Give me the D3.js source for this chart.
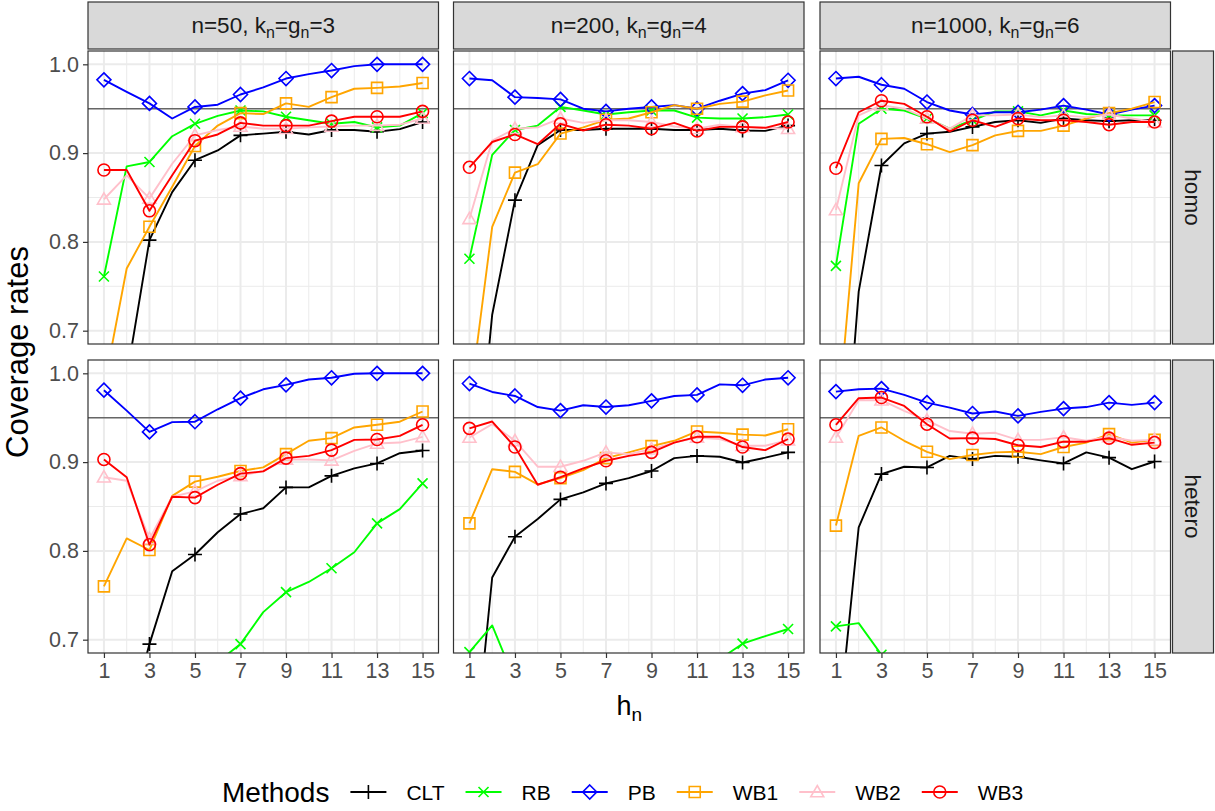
<!DOCTYPE html>
<html>
<head>
<meta charset="utf-8">
<title>Coverage rates</title>
<script src="https://d3js.org/d3.v7.min.js"></script>
<style>
  body { margin: 0; background: #fff; }
  text { font-family: "Liberation Sans", Arial, sans-serif; }
</style>
</head>
<body>
<script>
// x values and labels
const hn = [1, 2, 3, 4, 5, 6, 7, 8, 9, 10, 11, 12, 13, 14, 15];
const xTicks = [1, 3, 5, 7, 9, 11, 13, 15];
const yTicks = [0.7, 0.8, 0.9, 1.0];
const yMinor = [0.75, 0.85, 0.95];
const target = 0.95;

const methods = ["CLT", "RB", "PB", "WB1", "WB2", "WB3"];
const colors = ["#000000", "#00ff00", "#0000ff", "#ffa500", "#ffc0cb", "#ff0000"];
const cols = [["n=50, k", "=g", "=3"], ["n=200, k", "=g", "=4"], ["n=1000, k", "=g", "=6"]];
const rows = ["homo", "hetero"];

// homo, n=50
const homo50_CLT = [0.55, 0.648, 0.802, 0.856, 0.892, 0.903, 0.920, 0.922, 0.924, 0.921, 0.926, 0.926, 0.924, 0.927, 0.935];
const homo50_RB  = [0.761, 0.885, 0.890, 0.919, 0.933, 0.942, 0.948, 0.947, 0.941, 0.937, 0.933, 0.935, 0.929, 0.931, 0.945];
const homo50_PB  = [0.9825, 0.969, 0.956, 0.939, 0.952, 0.9545, 0.966, 0.974, 0.984, 0.989, 0.993, 0.998, 1.0, 1.0, 1.0];
const homo50_WB1 = [0.636, 0.770, 0.817, 0.862, 0.908, 0.931, 0.945, 0.944, 0.956, 0.952, 0.963, 0.9725, 0.9735, 0.975, 0.979];
const homo50_WB2 = [0.848, 0.875, 0.849, 0.888, 0.920, 0.926, 0.930, 0.9275, 0.9275, 0.929, 0.930, 0.931, 0.931, 0.932, 0.939];
const homo50_WB3 = [0.881, 0.881, 0.835, 0.875, 0.914, 0.921, 0.934, 0.931, 0.931, 0.931, 0.936, 0.941, 0.941, 0.941, 0.947];

// homo, n=200
const homo200_CLT = [0.45, 0.718, 0.847, 0.909, 0.926, 0.926, 0.9275, 0.9275, 0.9275, 0.926, 0.926, 0.9275, 0.9255, 0.925, 0.931];
const homo200_RB  = [0.781, 0.898, 0.926, 0.931, 0.952, 0.948, 0.9435, 0.946, 0.948, 0.948, 0.940, 0.939, 0.939, 0.9405, 0.9435];
const homo200_PB  = [0.984, 0.982, 0.963, 0.962, 0.9605, 0.950, 0.947, 0.950, 0.952, 0.954, 0.950, 0.959, 0.967, 0.971, 0.982];
const homo200_WB1 = [0.617, 0.817, 0.878, 0.8875, 0.922, 0.929, 0.9375, 0.939, 0.946, 0.954, 0.950, 0.9555, 0.958, 0.965, 0.9705];
const homo200_WB2 = [0.826, 0.914, 0.9275, 0.929, 0.939, 0.934, 0.937, 0.937, 0.935, 0.930, 0.9275, 0.932, 0.9295, 0.9285, 0.9275];
const homo200_WB3 = [0.884, 0.9125, 0.921, 0.910, 0.933, 0.9255, 0.932, 0.931, 0.9275, 0.934, 0.925, 0.9295, 0.9295, 0.9285, 0.935];

// homo, n=1000
const homo1000_CLT = [0.415, 0.744, 0.886, 0.911, 0.922, 0.924, 0.9295, 0.935, 0.937, 0.934, 0.939, 0.937, 0.936, 0.937, 0.937];
const homo1000_RB  = [0.773, 0.933, 0.950, 0.948, 0.939, 0.9275, 0.937, 0.947, 0.947, 0.9425, 0.948, 0.944, 0.9425, 0.9425, 0.9425];
const homo1000_PB  = [0.984, 0.986, 0.977, 0.9725, 0.9575, 0.948, 0.9435, 0.946, 0.946, 0.949, 0.9535, 0.949, 0.9435, 0.949, 0.9535];
const homo1000_WB1 = [0.574, 0.866, 0.916, 0.917, 0.910, 0.901, 0.909, 0.920, 0.925, 0.925, 0.931, 0.939, 0.945, 0.950, 0.9575];
const homo1000_WB2 = [0.836, 0.9425, 0.954, 0.950, 0.939, 0.9275, 0.9425, 0.9425, 0.9435, 0.9405, 0.9425, 0.9405, 0.9435, 0.939, 0.935];
const homo1000_WB3 = [0.883, 0.946, 0.959, 0.9555, 0.941, 0.9245, 0.937, 0.9295, 0.939, 0.937, 0.937, 0.935, 0.932, 0.935, 0.935];

// hetero, n=50
const hetero50_CLT = [0.55, 0.60, 0.695, 0.777, 0.796, 0.821, 0.8415, 0.848, 0.8715, 0.8715, 0.8845, 0.893, 0.8985, 0.910, 0.913];
const hetero50_RB  = [0.55, 0.57, 0.60, 0.62, 0.65, 0.675, 0.695, 0.731, 0.7535, 0.765, 0.7805, 0.7985, 0.831, 0.847, 0.876];
const hetero50_PB  = [0.981, 0.958, 0.934, 0.945, 0.9455, 0.9595, 0.972, 0.982, 0.987, 0.993, 0.995, 0.9995, 1.0, 1.0, 1.0];
const hetero50_WB1 = [0.760, 0.814, 0.801, 0.862, 0.878, 0.8835, 0.890, 0.894, 0.909, 0.924, 0.927, 0.939, 0.942, 0.9455, 0.957];
const hetero50_WB2 = [0.883, 0.879, 0.8135, 0.861, 0.867, 0.879, 0.8845, 0.890, 0.903, 0.903, 0.902, 0.9127, 0.921, 0.922, 0.9285];
const hetero50_WB3 = [0.903, 0.883, 0.807, 0.861, 0.860, 0.8745, 0.887, 0.8895, 0.9045, 0.907, 0.9135, 0.925, 0.9255, 0.9295, 0.942];

// hetero, n=200
const hetero200_CLT = [0.512, 0.770, 0.816, 0.836, 0.858, 0.866, 0.876, 0.882, 0.890, 0.9045, 0.907, 0.906, 0.8996, 0.905, 0.911];
const hetero200_RB  = [0.686, 0.716, 0.654, 0.62, 0.60, 0.60, 0.61, 0.62, 0.63, 0.64, 0.66, 0.678, 0.6955, 0.704, 0.712];
const hetero200_PB  = [0.9885, 0.979, 0.9745, 0.962, 0.958, 0.964, 0.962, 0.964, 0.969, 0.9745, 0.9757, 0.9876, 0.9865, 0.993, 0.995];
const hetero200_WB1 = [0.831, 0.892, 0.889, 0.875, 0.882, 0.891, 0.9045, 0.911, 0.918, 0.924, 0.9345, 0.933, 0.931, 0.930, 0.937];
const hetero200_WB2 = [0.9277, 0.9427, 0.924, 0.8948, 0.8948, 0.9015, 0.911, 0.909, 0.9146, 0.922, 0.9277, 0.926, 0.9184, 0.9184, 0.9247];
const hetero200_WB3 = [0.938, 0.9457, 0.917, 0.8745, 0.883, 0.893, 0.9015, 0.907, 0.911, 0.922, 0.9285, 0.9285, 0.917, 0.9135, 0.926];

// hetero, n=1000
const hetero1000_CLT = [0.574, 0.8266, 0.8865, 0.8948, 0.894, 0.907, 0.9034, 0.907, 0.906, 0.902, 0.8985, 0.911, 0.905, 0.892, 0.9007];
const hetero1000_RB  = [0.715, 0.7187, 0.683, 0.66, 0.65, 0.64, 0.64, 0.63, 0.63, 0.62, 0.62, 0.61, 0.61, 0.60, 0.60];
const hetero1000_PB  = [0.9794, 0.982, 0.9828, 0.9757, 0.967, 0.9614, 0.9547, 0.957, 0.952, 0.9566, 0.9603, 0.962, 0.967, 0.9644, 0.967];
const hetero1000_WB1 = [0.8285, 0.9296, 0.939, 0.924, 0.9116, 0.9034, 0.908, 0.911, 0.9116, 0.909, 0.917, 0.922, 0.9315, 0.922, 0.925];
const hetero1000_WB2 = [0.9277, 0.9697, 0.9697, 0.9577, 0.947, 0.935, 0.932, 0.933, 0.925, 0.925, 0.928, 0.924, 0.9285, 0.924, 0.925];
const hetero1000_WB3 = [0.942, 0.972, 0.9727, 0.9633, 0.9427, 0.9266, 0.927, 0.926, 0.919, 0.917, 0.923, 0.923, 0.927, 0.9195, 0.922];

// panel lookup [row][col] -> series per method
const panels = [
  [[homo50_CLT, homo50_RB, homo50_PB, homo50_WB1, homo50_WB2, homo50_WB3],
   [homo200_CLT, homo200_RB, homo200_PB, homo200_WB1, homo200_WB2, homo200_WB3],
   [homo1000_CLT, homo1000_RB, homo1000_PB, homo1000_WB1, homo1000_WB2, homo1000_WB3]],
  [[hetero50_CLT, hetero50_RB, hetero50_PB, hetero50_WB1, hetero50_WB2, hetero50_WB3],
   [hetero200_CLT, hetero200_RB, hetero200_PB, hetero200_WB1, hetero200_WB2, hetero200_WB3],
   [hetero1000_CLT, hetero1000_RB, hetero1000_PB, hetero1000_WB1, hetero1000_WB2, hetero1000_WB3]]
];

// layout
const W = 1215, H = 811;
const panelW = 350.5, panelH = 293;
const colX = [88, 453.5, 820];
const rowY = [51, 360];
const stripTop = 2, stripRightW = 41;

// marker shapes (ggplot shapes 3, 4, 5, 0, 2, 1)
const shapes = {
  CLT: "M-7,0H7M0,-7V7",
  RB: "M-5,-5L5,5M-5,5L5,-5",
  PB: "M0,-7L7,0L0,7L-7,0Z",
  WB1: "M-5.5,-5.5H5.5V5.5H-5.5Z",
  WB2: "M0,-6.5L6.5,4.8H-6.5Z",
  WB3: "M-6,0A6,6 0 1,0 6,0A6,6 0 1,0 -6,0Z"
};

const x = d3.scaleLinear().domain([0.3, 15.7]).range([0, panelW]);
const y = d3.scaleLinear().domain([0.685, 1.015]).range([panelH, 0]);

const svg = d3.select("body").append("svg")
  .attr("width", W).attr("height", H);

svg.append("defs").append("clipPath").attr("id", "pclip")
  .append("rect").attr("width", panelW).attr("height", panelH);

const line = d3.line().x((d, i) => x(hn[i])).y(d => y(d));

// text with "n" subscripts between the parts
function subText(sel, parts, subSize) {
  parts.forEach((p, i) => {
    sel.append("tspan").attr("dy", i > 0 ? -5 : null).text(p);
    if (i < parts.length - 1) {
      sel.append("tspan").attr("font-size", subSize).attr("dy", 5).text("n");
    }
  });
}

rows.forEach((rowName, r) => {
  cols.forEach((colName, c) => {
    const g = svg.append("g").attr("transform", `translate(${colX[c]},${rowY[r]})`);

    // background grid
    g.append("rect").attr("width", panelW).attr("height", panelH).attr("fill", "#fff");
    g.selectAll(".ymin").data(yMinor).enter().append("line")
      .attr("x1", 0).attr("x2", panelW).attr("y1", d => y(d)).attr("y2", d => y(d))
      .attr("stroke", "#ebebeb").attr("stroke-width", 1);
    g.selectAll(".xmin").data(hn.filter(v => !xTicks.includes(v))).enter().append("line")
      .attr("y1", 0).attr("y2", panelH).attr("x1", d => x(d)).attr("x2", d => x(d))
      .attr("stroke", "#ebebeb").attr("stroke-width", 1);
    g.selectAll(".ymaj").data(yTicks).enter().append("line")
      .attr("x1", 0).attr("x2", panelW).attr("y1", d => y(d)).attr("y2", d => y(d))
      .attr("stroke", "#ebebeb").attr("stroke-width", 2);
    g.selectAll(".xmaj").data(xTicks).enter().append("line")
      .attr("y1", 0).attr("y2", panelH).attr("x1", d => x(d)).attr("x2", d => x(d))
      .attr("stroke", "#ebebeb").attr("stroke-width", 2);

    // reference line
    g.append("line").attr("x1", 0).attr("x2", panelW)
      .attr("y1", y(target)).attr("y2", y(target))
      .attr("stroke", "#666666").attr("stroke-width", 1.6);

    const plot = g.append("g").attr("clip-path", "url(#pclip)");
    const series = panels[r][c];
    methods.forEach((m, k) => {
      plot.append("path").datum(series[k]).attr("d", line)
        .attr("fill", "none").attr("stroke", colors[k]).attr("stroke-width", 1.9)
        .attr("stroke-linejoin", "round");
      plot.selectAll(".pt" + m).data(series[k].map((v, i) => [hn[i], v]).filter(d => d[0] % 2 === 1))
        .enter().append("path")
        .attr("transform", d => `translate(${x(d[0])},${y(d[1])})`)
        .attr("d", shapes[m]).attr("fill", "none")
        .attr("stroke", colors[k]).attr("stroke-width", 1.6);
    });

    // border
    g.append("rect").attr("width", panelW).attr("height", panelH)
      .attr("fill", "none").attr("stroke", "#333333").attr("stroke-width", 1.2);

    // axes
    if (c === 0) {
      const ya = g.append("g").call(d3.axisLeft(y).tickValues(yTicks).tickFormat(d3.format(".1f")).tickSize(5).tickPadding(4));
      ya.select(".domain").remove();
      ya.selectAll("line").attr("stroke", "#333333").attr("stroke-width", 1.2);
      ya.selectAll("text").attr("fill", "#4d4d4d").attr("font-size", 21.5)
        .attr("font-family", "Liberation Sans, Arial, sans-serif");
    }
    if (r === 1) {
      const xa = g.append("g").attr("transform", `translate(0,${panelH})`)
        .call(d3.axisBottom(x).tickValues(xTicks).tickSize(5).tickPadding(5));
      xa.select(".domain").remove();
      xa.selectAll("line").attr("stroke", "#333333").attr("stroke-width", 1.2);
      xa.selectAll("text").attr("fill", "#4d4d4d").attr("font-size", 21.5)
        .attr("font-family", "Liberation Sans, Arial, sans-serif");
    }

    // top strips
    if (r === 0) {
      const sg = svg.append("g").attr("transform", `translate(${colX[c]},${stripTop})`);
      sg.append("rect").attr("width", panelW).attr("height", rowY[0] - stripTop - 2)
        .attr("fill", "#d9d9d9").attr("stroke", "#333333").attr("stroke-width", 1.2);
      const t = sg.append("text").attr("x", panelW / 2).attr("y", 31)
        .attr("text-anchor", "middle").attr("font-size", 22.5).attr("fill", "#1a1a1a");
      subText(t, colName, 16);
    }
    // right strips
    if (c === 2) {
      const sx = colX[2] + panelW + 2;
      const rg = svg.append("g").attr("transform", `translate(${sx},${rowY[r]})`);
      rg.append("rect").attr("width", stripRightW).attr("height", panelH)
        .attr("fill", "#d9d9d9").attr("stroke", "#333333").attr("stroke-width", 1.2);
      rg.append("text").attr("transform", `translate(${stripRightW / 2 - 8},${panelH / 2}) rotate(90)`)
        .attr("text-anchor", "middle").attr("font-size", 22.5).attr("fill", "#1a1a1a")
        .text(rowName);
    }
  });
});

// axis titles
const midX = (colX[0] + colX[2] + panelW) / 2;
const midY = (rowY[0] + rowY[1] + panelH) / 2;
svg.append("text").attr("transform", `translate(28,${midY}) rotate(-90)`)
  .attr("text-anchor", "middle").attr("font-size", 31).attr("fill", "#000")
  .text("Coverage rates");
const xt = svg.append("text").attr("x", midX).attr("y", 715)
  .attr("text-anchor", "middle").attr("font-size", 27).attr("fill", "#000");
xt.append("tspan").text("h");
xt.append("tspan").attr("font-size", 19).attr("dy", 6).text("n");

// legend
const leg = svg.append("g");
const legY = 792;
let lx = 222;
const title = leg.append("text").attr("x", lx).attr("y", legY + 10)
  .attr("font-size", 28).attr("fill", "#000").text("Methods");
lx += title.node().getComputedTextLength() + 21;
methods.forEach((m, k) => {
  leg.append("line").attr("x1", lx).attr("x2", lx + 36).attr("y1", legY).attr("y2", legY)
    .attr("stroke", colors[k]).attr("stroke-width", 1.9);
  leg.append("path").attr("transform", `translate(${lx + 18},${legY})`)
    .attr("d", shapes[m]).attr("fill", "none").attr("stroke", colors[k]).attr("stroke-width", 1.6);
  const t = leg.append("text").attr("x", lx + 56).attr("y", legY + 8)
    .attr("font-size", 21).attr("fill", "#000").text(m);
  lx += 56 + t.node().getComputedTextLength() + 21;
});
</script>
</body>
</html>
